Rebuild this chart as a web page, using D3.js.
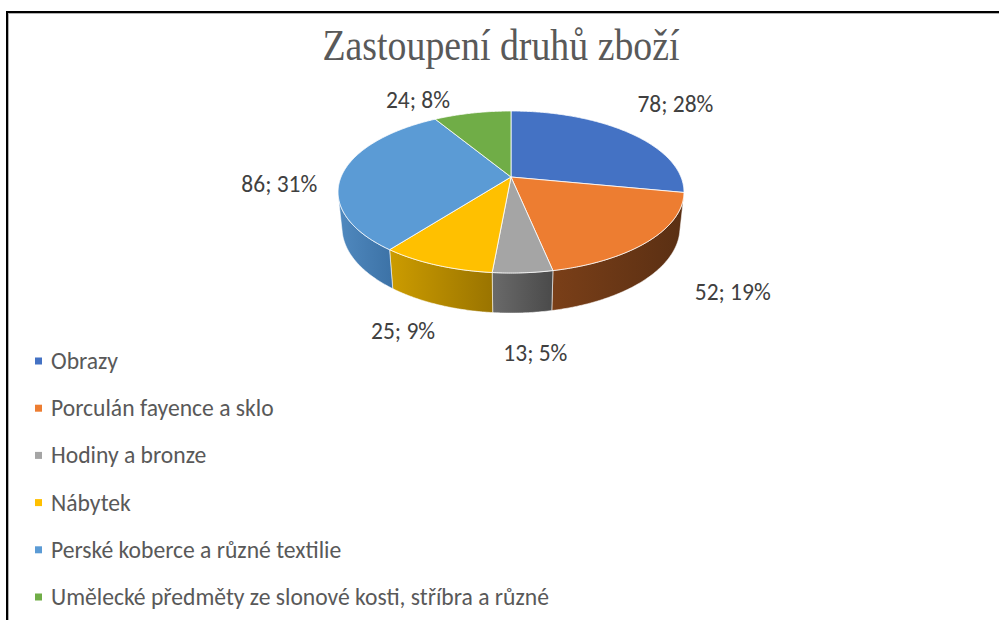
<!DOCTYPE html>
<html>
<head>
<meta charset="utf-8">
<script src="https://cdn.jsdelivr.net/npm/d3@7"></script>
<style>
  html, body { margin: 0; padding: 0; background: #fff; }
  svg { display: block; }
</style>
</head>
<body>
<svg id="chart" width="999" height="620"></svg>
<script>
// ---- data ----
const title = "Zastoupení druhů zboží";
const categories = [
  "Obrazy",
  "Porculán fayence a sklo",
  "Hodiny a bronze",
  "Nábytek",
  "Perské koberce a různé textilie",
  "Umělecké předměty ze slonové kosti, stříbra a různé"
];
const values = [78, 52, 13, 25, 86, 24];
const percentLabels = ["28%", "19%", "5%", "9%", "31%", "8%"];

// ---- style ----
const topColors  = ["#4472C4", "#ED7D31", "#A5A5A5", "#FFC000", "#5B9BD5", "#70AD47"];
const wallLight  = ["#30558F", "#7A3F18", "#6A6A6A", "#CC9C00", "#5089BF", "#527F34"];
const wallDark   = ["#24406D", "#5A2F13", "#4A4A4A", "#9A7400", "#3C72A6", "#3C5F26"];
// label nudges (layout, pixels) relative to projected anchor
const labelNudge = [[0, -11], [2, 15], [5, 18], [14, 11], [14, 13], [-40, 11]];

const svg = d3.select("#chart");
const W = 999, H = 620;

// frame
svg.append("line").attr("x1", 7).attr("x2", W).attr("y1", 13.5).attr("y2", 13.5)
  .attr("stroke", "#b0b0b0").attr("stroke-width", 1);
svg.append("line").attr("x1", 8.5).attr("x2", 8.5).attr("y1", 13).attr("y2", H)
  .attr("stroke", "#b0b0b0").attr("stroke-width", 1);
svg.append("line").attr("x1", 6).attr("x2", W).attr("y1", 12).attr("y2", 12)
  .attr("stroke", "#000").attr("stroke-width", 2);
svg.append("line").attr("x1", 7).attr("x2", 7).attr("y1", 11).attr("y2", H)
  .attr("stroke", "#000").attr("stroke-width", 2);

// title (slightly tall, as in the reference)
const titleG = svg.append("g").attr("transform", "translate(501,60) scale(1,1.18)");
const titleText = titleG.append("text")
  .attr("x", 0).attr("y", 0)
  .attr("text-anchor", "middle")
  .attr("font-family", "'Liberation Serif', 'Times New Roman', serif")
  .attr("font-size", 36)
  .attr("fill", "#595959")
  .text(title);
(function fit() {
  const w = titleText.node().getComputedTextLength();
  titleText.attr("font-size", 36 * 357 / w);
})();

// ---- 3D perspective projection ----
const cx = 511, cy = 177;
const tilt = 27.4 * Math.PI / 180;
const sT = Math.sin(tilt), cT = Math.cos(tilt);
const dist = 4.795, focal = 815, thick = 0.237;
function proj(a, r, z) {
  const X = r * Math.sin(a), Y = r * Math.cos(a);
  const depth = dist + Y * cT - z * sT;
  const up = Y * sT + z * cT;
  return [cx + focal * X / depth, cy - focal * up / depth];
}
const pie = d3.pie().sort(null).value(d => d)(values);
const line = d3.line();
function arcPts(a0, a1, r, z) {
  const n = Math.max(2, Math.ceil(Math.abs(a1 - a0) / 0.01));
  return d3.range(n + 1).map(i => proj(a0 + (a1 - a0) * i / n, r, z));
}

const defs = svg.append("defs");
const chartG = svg.append("g");

// visible front rim range
const aVis = Math.acos(-1 / (dist * cT));
const vis0 = aVis, vis1 = 2 * Math.PI - aVis;

// walls
pie.forEach((p, i) => {
  const a0 = Math.max(p.startAngle, vis0), a1 = Math.min(p.endAngle, vis1);
  if (a1 <= a0) return;
  const gid = "wg" + i;
  const g = defs.append("linearGradient").attr("id", gid)
    .attr("x1", 0).attr("x2", 1).attr("y1", 0).attr("y2", 0);
  g.append("stop").attr("offset", "0%").attr("stop-color", wallLight[i]);
  g.append("stop").attr("offset", "100%").attr("stop-color", wallDark[i]);
  const pts = arcPts(a0, a1, 1, 0).concat(arcPts(a1, a0, 1, -thick));
  chartG.append("path")
    .attr("d", line(pts) + "Z")
    .attr("fill", `url(#${gid})`)
    .attr("stroke", "rgba(255,255,255,0.55)")
    .attr("stroke-width", 1)
    .attr("stroke-linejoin", "round");
});

// tops
pie.forEach((p, i) => {
  const pts = [proj(0, 0, 0)].concat(arcPts(p.startAngle, p.endAngle, 1, 0));
  chartG.append("path")
    .attr("d", line(pts) + "Z")
    .attr("fill", topColors[i])
    .attr("stroke", "rgba(255,255,255,0.8)")
    .attr("stroke-width", 1)
    .attr("stroke-linejoin", "round");
});

// data labels
const labelFont = "Carlito, Lato, 'Open Sans', sans-serif";
const labels = chartG.selectAll("text.lbl").data(pie).enter().append("text")
  .attr("class", "lbl")
  .attr("text-anchor", "middle")
  .attr("font-family", labelFont)
  .attr("font-size", 22)
  .attr("fill", "#404040")
  .text((d, i) => values[i] + "; " + percentLabels[i]);
(function fitLabels() {
  const w = labels.nodes()[0].getComputedTextLength();
  const fs = 22 * 76 / w;
  labels.attr("font-size", fs)
    .attr("x", (d, i) => {
      const m = (d.startAngle + d.endAngle) / 2;
      return proj(m, 1.47, 0)[0] + labelNudge[i][0];
    })
    .attr("y", (d, i) => {
      const m = (d.startAngle + d.endAngle) / 2;
      return proj(m, 1.47, 0)[1] + labelNudge[i][1] + 8;
    });
})();

// legend
const legendY = d3.scalePoint().domain(categories).range([361, 597]);
const leg = svg.append("g");
const items = leg.selectAll("g").data(categories).enter().append("g")
  .attr("transform", d => `translate(0,${legendY(d)})`);
items.append("rect").attr("x", 35).attr("y", -3.5).attr("width", 7).attr("height", 7)
  .attr("fill", (d, i) => topColors[i]);
const legTexts = items.append("text")
  .attr("x", 51)
  .attr("font-family", labelFont)
  .attr("font-size", 21)
  .attr("fill", "#595959")
  .text(d => d);
(function fitLegend() {
  const w = legTexts.nodes()[5].getComputedTextLength();
  const fs = 21 * 498 / w;
  legTexts.attr("font-size", fs).attr("y", fs * 0.34);
})();
</script>
</body>
</html>
